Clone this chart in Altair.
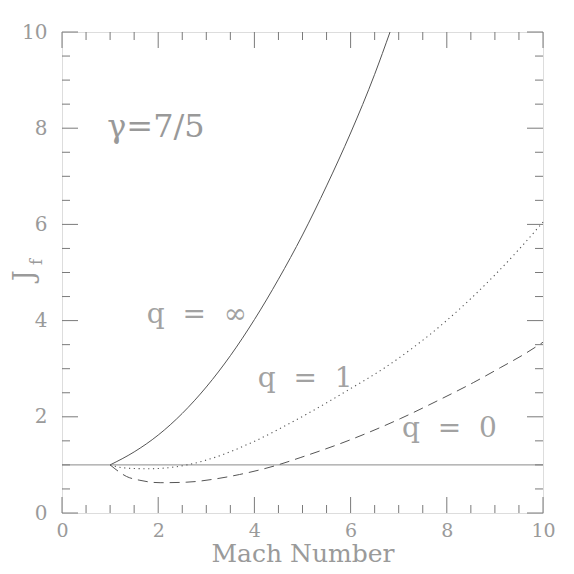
import altair as alt
import pandas as pd

# ---- data ----
mach_inf = [1.0, 1.5, 2.0, 2.5, 3.0, 3.5, 4.0, 4.5, 5.0, 5.5, 6.0, 6.5, 6.82]
jf_inf = [1.0, 1.27, 1.62, 2.07, 2.62, 3.27, 4.02, 4.86, 5.78, 6.8, 7.9, 9.12, 10.0]

mach_q1 = [1.0, 1.2, 1.5, 1.8, 2.2, 2.6, 3.22, 3.91, 4.95, 5.99, 6.68, 7.96, 9.0, 9.5, 10.0]
jf_q1 = [1.0, 0.95, 0.925, 0.92, 0.94, 1.0, 1.17, 1.45, 1.98, 2.58, 3.0, 3.97, 4.95, 5.48, 6.05]

mach_q0 = [1.0, 1.1, 1.34, 1.62, 2.04, 2.58, 3.2, 3.69, 4.49, 4.95, 5.99, 7.03, 7.86, 8.55, 9.11, 9.59, 10.0]
jf_q0 = [1.0, 0.92, 0.76, 0.68, 0.63, 0.64, 0.71, 0.80, 1.0, 1.15, 1.52, 1.96, 2.36, 2.71, 3.02, 3.29, 3.55]

ref_level = [1.0]

major_ticks = [0, 2, 4, 6, 8, 10]
minor_ticks = [0.5, 1, 1.5, 2.5, 3, 3.5, 4.5, 5, 5.5, 6.5, 7, 7.5, 8.5, 9, 9.5]

label_text = ["q\u00a0\u00a0=\u00a0\u00a0\u221e", "q\u00a0\u00a0=\u00a0\u00a01", "q\u00a0\u00a0=\u00a0\u00a00"]
label_x = [1.76, 4.07, 7.07]
label_y = [3.94, 2.61, 1.59]

gamma_text = ["\u03b3=7/5"]
gamma_x = [0.94]
gamma_y = [7.81]

x_title = "Mach Number"
y_title = "J"
y_title_sub = "f"

W, H = 481, 481
FONT = "DejaVu Serif"
TXT = "#9a9a9a"
LINE = "#555555"
FRAME = "#7a7a7a"

xs = alt.Scale(domain=[0, 10], nice=False, zero=False)
ys = alt.Scale(domain=[0, 10], nice=False, zero=False)

xaxis = alt.Axis(values=major_ticks, domain=False, ticks=False, grid=False,
                 labelFont=FONT, labelFontSize=19, labelColor=TXT, labelPadding=8,
                 labelFlush=False, labelOverlap=False, labelBound=False,
                 title=x_title, titleFont=FONT, titleFontSize=25, titleFontWeight="normal",
                 titleColor=TXT, titleX=W / 2, titleY=48, titleAlign="center",
                 titleBaseline="alphabetic", format="d")
yaxis = alt.Axis(values=major_ticks, domain=False, ticks=False, grid=False,
                 labelFont=FONT, labelFontSize=20, labelColor=TXT, labelPadding=15,
                 labelFlush=False, labelOverlap=False, labelBound=False,
                 title=y_title, titleFont=FONT, titleFontSize=27, titleFontWeight="normal",
                 titleColor=TXT, titleX=-38, titleY=243, titleAngle=270,
                 titleAlign="center", titleBaseline="middle", format="d")

df_inf = pd.DataFrame({"M": mach_inf, "J": jf_inf})
df_q1 = pd.DataFrame({"M": mach_q1, "J": jf_q1})
df_q0 = pd.DataFrame({"M": mach_q0, "J": jf_q0})

base_line = alt.Chart(df_inf).mark_line(color=LINE, strokeWidth=1, interpolate="monotone").encode(
    x=alt.X("M:Q", scale=xs, axis=xaxis),
    y=alt.Y("J:Q", scale=ys, axis=yaxis),
)
line_q1 = alt.Chart(df_q1).mark_line(color=LINE, strokeWidth=1.1, strokeDash=[1.2, 3.6],
                                     interpolate="monotone").encode(
    x=alt.X("M:Q", scale=xs), y=alt.Y("J:Q", scale=ys))
line_q0 = alt.Chart(df_q0).mark_line(color=LINE, strokeWidth=1, strokeDash=[10, 6],
                                     interpolate="monotone").encode(
    x=alt.X("M:Q", scale=xs), y=alt.Y("J:Q", scale=ys))

ref = alt.Chart(pd.DataFrame({"J": ref_level})).mark_rule(color="#8a8a8a", strokeWidth=1).encode(
    y=alt.Y("J:Q", scale=ys))

maj = pd.DataFrame({"v": major_ticks})
mnr = pd.DataFrame({"v": minor_ticks})


def tick_layers(df, length):
    bottom = alt.Chart(df).mark_rule(color=FRAME, strokeWidth=1).encode(
        x=alt.X("v:Q", scale=xs), y=alt.value(H), y2=alt.value(H - length))
    top = alt.Chart(df).mark_rule(color=FRAME, strokeWidth=1).encode(
        x=alt.X("v:Q", scale=xs), y=alt.value(0), y2=alt.value(length))
    left = alt.Chart(df).mark_rule(color=FRAME, strokeWidth=1).encode(
        y=alt.Y("v:Q", scale=ys), x=alt.value(0), x2=alt.value(length))
    right = alt.Chart(df).mark_rule(color=FRAME, strokeWidth=1).encode(
        y=alt.Y("v:Q", scale=ys), x=alt.value(W), x2=alt.value(W - length))
    return [bottom, top, left, right]


labels = alt.Chart(pd.DataFrame({"t": label_text, "x": label_x, "y": label_y})).mark_text(
    font=FONT, fontSize=28, color="#a2a2a2", align="left", baseline="alphabetic").encode(
    x=alt.X("x:Q", scale=xs), y=alt.Y("y:Q", scale=ys), text="t:N")

gamma = alt.Chart(pd.DataFrame({"t": gamma_text, "x": gamma_x, "y": gamma_y})).mark_text(
    font=FONT, fontSize=32, color="#999999", align="left", baseline="alphabetic").encode(
    x=alt.X("x:Q", scale=xs), y=alt.Y("y:Q", scale=ys), text="t:N")

sub = alt.Chart(pd.DataFrame({"t": [y_title_sub]})).mark_text(
    font=FONT, fontSize=16, color=TXT, angle=270, align="center", baseline="middle").encode(
    x=alt.value(-25), y=alt.value(230), text="t:N")

chart = alt.layer(
    base_line, ref, line_q1, line_q0,
    *tick_layers(maj, 16), *tick_layers(mnr, 8),
    labels, gamma, sub,
).properties(
    width=W, height=H,
    autosize=alt.AutoSizeParams(type="none"),
    padding={"left": 54, "top": 24, "right": 23, "bottom": 53},
).configure_view(stroke=FRAME, strokeWidth=1.2).configure(background="white")

chart.save("out.html", embed_options={"renderer": "svg", "actions": False})
